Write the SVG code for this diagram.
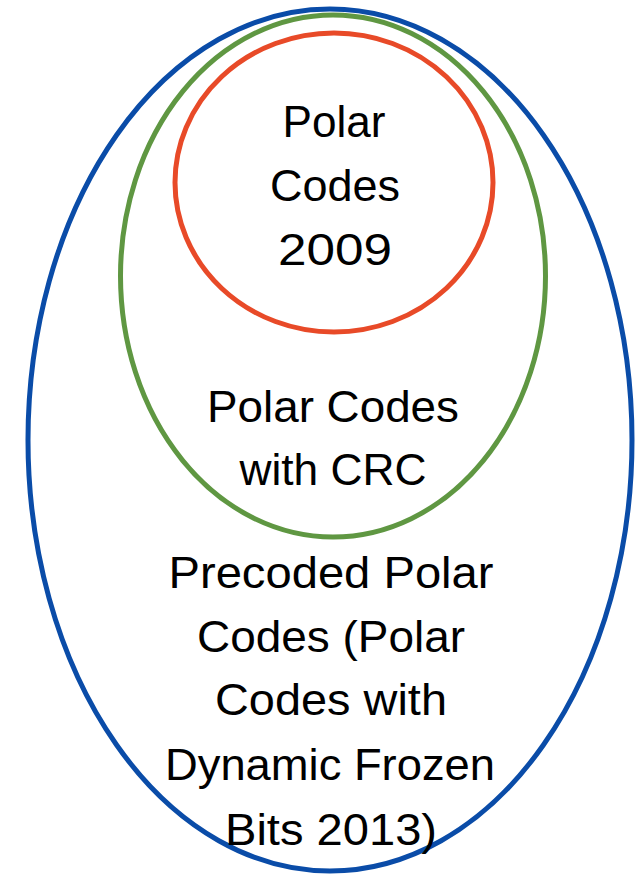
<svg xmlns="http://www.w3.org/2000/svg" width="643" height="877" viewBox="0 0 643 877">
  <style>
    .ring { fill: none; stroke-width: 5; }
    .label { font-family: "Liberation Sans", Arial, sans-serif; font-size: 44px; fill: #000; text-anchor: middle; }
  </style>
  <rect width="643" height="877" fill="#fff"/>
  <!-- outer set: precoded polar codes -->
  <g id="precoded">
    <ellipse class="ring" cx="330" cy="440" rx="302" ry="431" stroke="#0A4CA8"/>
    <text class="label" x="331" y="588" textLength="325" lengthAdjust="spacingAndGlyphs">Precoded Polar</text>
    <text class="label" x="331" y="652" textLength="268" lengthAdjust="spacingAndGlyphs">Codes (Polar</text>
    <text class="label" x="331" y="715" textLength="232" lengthAdjust="spacingAndGlyphs">Codes with</text>
    <text class="label" x="330" y="780" textLength="330" lengthAdjust="spacingAndGlyphs">Dynamic Frozen</text>
    <text class="label" x="331" y="845" textLength="212" lengthAdjust="spacingAndGlyphs">Bits 2013)</text>
  </g>
  <!-- middle set: polar codes with CRC -->
  <g id="crc">
    <ellipse class="ring" cx="333" cy="276" rx="212.5" ry="261" stroke="#5F9742"/>
    <text class="label" x="333" y="422" textLength="252" lengthAdjust="spacingAndGlyphs">Polar Codes</text>
    <text class="label" x="333" y="485" textLength="187" lengthAdjust="spacingAndGlyphs">with CRC</text>
  </g>
  <!-- inner set: original polar codes -->
  <g id="polar2009">
    <ellipse class="ring" cx="334" cy="182.5" rx="159" ry="149.5" stroke="#E84A28"/>
    <text class="label" x="334" y="137" textLength="103" lengthAdjust="spacingAndGlyphs">Polar</text>
    <text class="label" x="335" y="201" textLength="130" lengthAdjust="spacingAndGlyphs">Codes</text>
    <text class="label" x="335" y="265" textLength="114" lengthAdjust="spacingAndGlyphs">2009</text>
  </g>
</svg>
